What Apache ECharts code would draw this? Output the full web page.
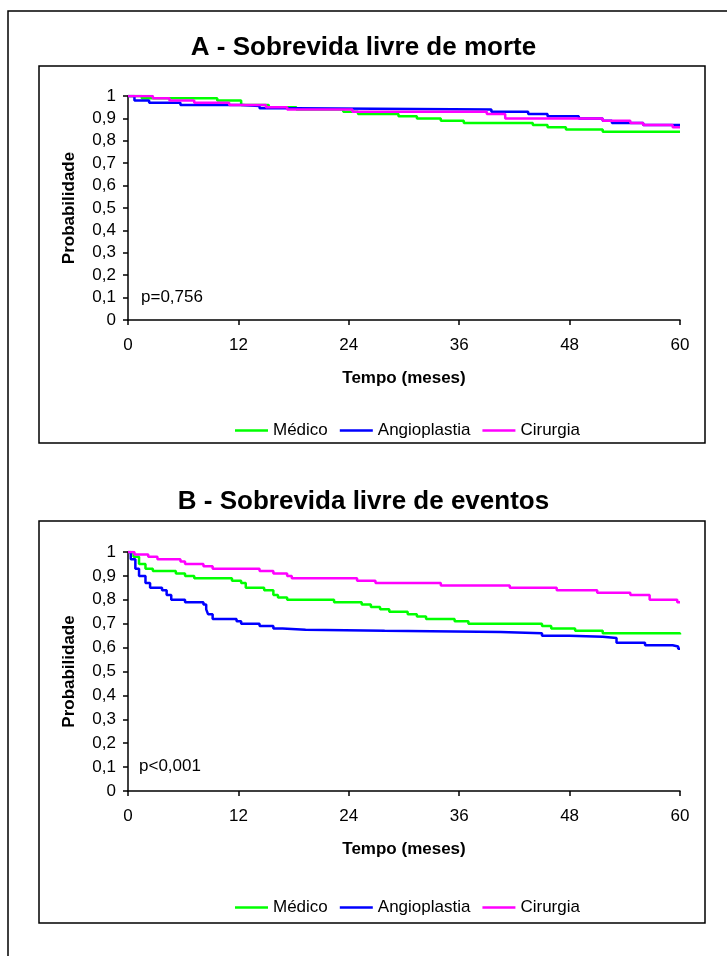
<!DOCTYPE html>
<html>
<head>
<meta charset="utf-8">
<script src="https://cdn.jsdelivr.net/npm/echarts@6/dist/echarts.min.js"></script>
<style>html,body{margin:0;padding:0;background:#fff}#chart{width:727px;height:956px}</style>
</head>
<body>
<div id="chart"></div>
<script>
// [tempo, probabilidade] - valor vale a partir do tempo
var mortMedico = [[0,1],[1.5,0.99],[9.7,0.98],[12.3,0.96],[15.3,0.95],[18.3,0.94],[23.4,0.93],[25,0.92],[29.4,0.91],[31.4,0.90],[34,0.89],[36.5,0.88],[44,0.87],[45.6,0.86],[47.6,0.85],[51.6,0.84],[60,0.84]];
var mortAngio = [[0,1],[0.7,0.98],[2.3,0.97],[5.7,0.96],[12.3,0.955],[14.3,0.945],[18.3,0.94],[39.5,0.93],[43.5,0.92],[45.6,0.91],[49,0.90],[51.6,0.89],[52.6,0.88],[56,0.87],[60,0.87]];
var mortCirurgia = [[0,1],[2.7,0.99],[4.5,0.98],[7.2,0.97],[11,0.96],[15,0.95],[17.3,0.94],[24.4,0.93],[39,0.92],[41,0.90],[51.6,0.89],[54.6,0.88],[56,0.87],[59.2,0.86],[60,0.86]];

var evMedico = [[0,1],[0.6,0.98],[1.2,0.95],[1.9,0.93],[2.7,0.92],[5.2,0.91],[6.2,0.90],[7.2,0.89],[11.3,0.88],[12.3,0.87],[12.8,0.85],[14.8,0.84],[15.8,0.82],[16.3,0.81],[17.3,0.80],[22.4,0.79],[25.4,0.78],[26.4,0.77],[27.4,0.76],[28.4,0.75],[30.4,0.74],[31.4,0.73],[32.4,0.72],[35.5,0.71],[37,0.70],[45,0.69],[46,0.68],[48.6,0.67],[51.6,0.66],[60,0.655]];
var evAngio = [[0,1],[0.3,0.97],[0.8,0.93],[1.2,0.90],[1.9,0.87],[2.4,0.85],[3.7,0.84],[4.2,0.82],[4.7,0.80],[6.2,0.79],[8.2,0.78],[8.5,0.76],[8.7,0.74],[9.2,0.72],[11.8,0.71],[12.3,0.70],[14.3,0.69],[15.8,0.68],[16.8,0.675],[19.3,0.67],[27.9,0.665],[40.5,0.66],[45,0.65],[48,0.645],[51.6,0.64],[53.1,0.62],[56.2,0.61],[59.2,0.605],[59.8,0.595],[60,0.595]];
var evCirurgia = [[0,1],[0.7,0.99],[2.2,0.98],[3.2,0.97],[5.7,0.96],[6.2,0.95],[8.2,0.94],[9.2,0.93],[14.3,0.92],[15.8,0.91],[17.3,0.90],[17.8,0.89],[24.9,0.88],[26.9,0.87],[34,0.86],[41.5,0.85],[46.6,0.84],[51,0.83],[54.6,0.82],[56.7,0.80],[59.7,0.79],[60,0.79]];

var grupos = ['Médico','Angioplastia','Cirurgia'];
var cores = ['#00ff00','#0000ff','#ff00ff'];

function eixoX(idx){
	return {gridIndex:idx,type:'value',min:0,max:60,interval:12,
		name:'Tempo (meses)',nameLocation:'middle',nameGap:50,
		nameTextStyle:{fontWeight:'bold',fontSize:17,color:'#000',fontFamily:'Arial'},
		axisLine:{lineStyle:{color:'#000',width:1.5}},axisTick:{inside:false,length:5,lineStyle:{color:'#000',width:1.5}},
		axisLabel:{color:'#000',fontSize:17,fontFamily:'Arial',margin:17},splitLine:{show:false}};
}
function eixoY(idx){
	return {gridIndex:idx,type:'value',min:0,max:1,interval:0.1,
		name:'Probabilidade',nameLocation:'middle',nameGap:50,
		nameTextStyle:{fontWeight:'bold',fontSize:17,color:'#000',fontFamily:'Arial'},
		axisLine:{show:true,lineStyle:{color:'#000',width:1.5}},axisTick:{show:true,length:5,lineStyle:{color:'#000',width:1.5}},
		axisLabel:{color:'#000',fontSize:17,fontFamily:'Arial',margin:12,formatter:function(v){return (Math.round(v*10)/10).toString().replace('.',',');}},
		splitLine:{show:false}};
}
function serie(idx,nome,dados,cor){
	return {name:nome,type:'line',step:'end',xAxisIndex:idx,yAxisIndex:idx,data:dados,
		symbol:'none',lineStyle:{color:cor,width:2.5},itemStyle:{color:cor}};
}
function legenda(top){
	return {top:top,left:230,itemWidth:33,itemHeight:2.5,itemGap:12,icon:'rect',data:grupos,
		textStyle:{color:'#000',fontSize:17,fontFamily:'Arial'}};
}

var chart = echarts.init(document.getElementById('chart'));
chart.setOption({
	animation:false,
	color:cores,
	title:[
		{text:'A - Sobrevida livre de morte',left:'center',top:30,textStyle:{fontSize:26,fontWeight:'bold',color:'#000',fontFamily:'Arial'}},
		{text:'B - Sobrevida livre de eventos',left:'center',top:484,textStyle:{fontSize:26,fontWeight:'bold',color:'#000',fontFamily:'Arial'}}
	],
	legend:[legenda(417),legenda(894)],
	grid:[
		{left:128,top:96,width:552,height:224},
		{left:128,top:552,width:552,height:239}
	],
	xAxis:[eixoX(0),eixoX(1)],
	yAxis:[eixoY(0),eixoY(1)],
	graphic:[
		{type:'polyline',shape:{points:[[8,956],[8,11],[727,11]]},style:{fill:'none',stroke:'#000',lineWidth:1.5}},
		{type:'rect',shape:{x:39,y:66,width:666,height:377},style:{fill:'none',stroke:'#000',lineWidth:1.5}},
		{type:'rect',shape:{x:39,y:521,width:666,height:402},style:{fill:'none',stroke:'#000',lineWidth:1.5}},
		{type:'text',left:141,top:289,style:{text:'p=0,756',fontSize:17,fontFamily:'Arial',fill:'#000'}},
		{type:'text',left:139,top:758,style:{text:'p<0,001',fontSize:17,fontFamily:'Arial',fill:'#000'}}
	],
	series:[
		serie(0,grupos[0],mortMedico,cores[0]),
		serie(0,grupos[1],mortAngio,cores[1]),
		serie(0,grupos[2],mortCirurgia,cores[2]),
		serie(1,grupos[0],evMedico,cores[0]),
		serie(1,grupos[1],evAngio,cores[1]),
		serie(1,grupos[2],evCirurgia,cores[2])
	]
});
</script>
</body>
</html>
